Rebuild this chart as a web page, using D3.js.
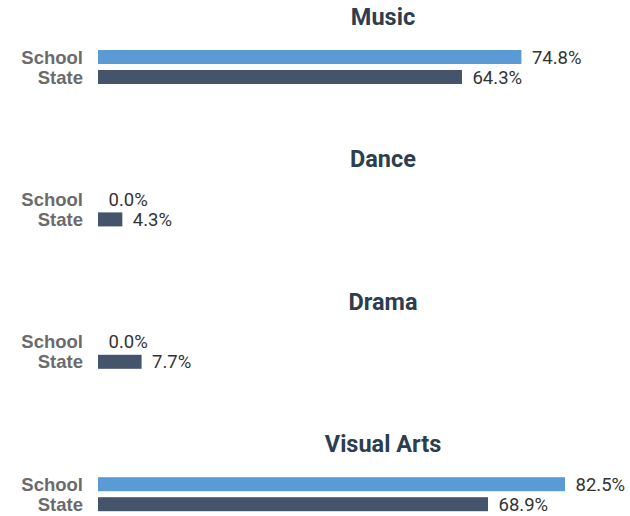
<!DOCTYPE html>
<html>
<head>
<meta charset="utf-8">
<script src="https://cdn.jsdelivr.net/npm/d3@7"></script>
<style>
  html, body { margin: 0; padding: 0; background: #fff; }
  svg { display: block; }
</style>
</head>
<body>
<svg id="chart" width="630" height="516"></svg>
<script>
// Data
const categories = ["Music", "Dance", "Drama", "Visual Arts"];
const seriesNames = ["School", "State"];
const schoolValues = [74.8, 0.0, 0.0, 82.5];
const stateValues = [64.3, 4.3, 7.7, 68.9];

const colors = { School: "#5b9bd5", State: "#44546a" };

const svg = d3.select("#chart");

// one panel per category
const panel = d3.scaleBand()
  .domain(categories)
  .range([0, 142.4 * categories.length]);

// bars inside a panel
const inner = d3.scaleBand()
  .domain(seriesNames)
  .range([50, 84])
  .paddingInner(0.3);

const x = d3.scaleLinear()
  .domain([0, d3.max(schoolValues.concat(stateValues))])
  .range([98, 565]);

const rows = categories.map((c, i) => ({
  category: c,
  values: [
    { name: "School", value: schoolValues[i] },
    { name: "State", value: stateValues[i] }
  ]
}));

const g = svg.selectAll("g.panel")
  .data(rows)
  .join("g")
  .attr("class", "panel")
  .attr("transform", d => `translate(0,${panel(d.category)})`);

// category title
g.append("text")
  .attr("x", 383)
  .attr("y", 25)
  .attr("text-anchor", "middle")
  .style("font-family", "Roboto, sans-serif")
  .style("font-weight", "bold")
  .style("font-size", "23.5px")
  .style("fill", "#2c3e50")
  .text(d => d.category);

const bar = g.selectAll("g.bar")
  .data(d => d.values)
  .join("g")
  .attr("class", "bar");

bar.append("rect")
  .attr("x", x(0))
  .attr("y", d => inner(d.name))
  .attr("width", d => x(d.value) - x(0))
  .attr("height", inner.bandwidth())
  .attr("fill", d => colors[d.name]);

// series label on the left
bar.append("text")
  .attr("x", 83)
  .attr("y", d => inner(d.name) + inner.bandwidth() / 2)
  .attr("dy", "0.36em")
  .attr("text-anchor", "end")
  .style("font-family", "'Liberation Sans', Arial, sans-serif")
  .style("font-weight", "bold")
  .style("font-size", "18.5px")
  .style("fill", "#6b6b6b")
  .text(d => d.name);

// value label after the bar
bar.append("text")
  .attr("x", d => x(d.value) + 10.5)
  .attr("y", d => inner(d.name) + inner.bandwidth() / 2)
  .attr("dy", "0.36em")
  .style("font-family", "Roboto, sans-serif")
  .style("font-size", "18.5px")
  .style("fill", "#333")
  .text(d => d.value.toFixed(1) + "%");
</script>
</body>
</html>
